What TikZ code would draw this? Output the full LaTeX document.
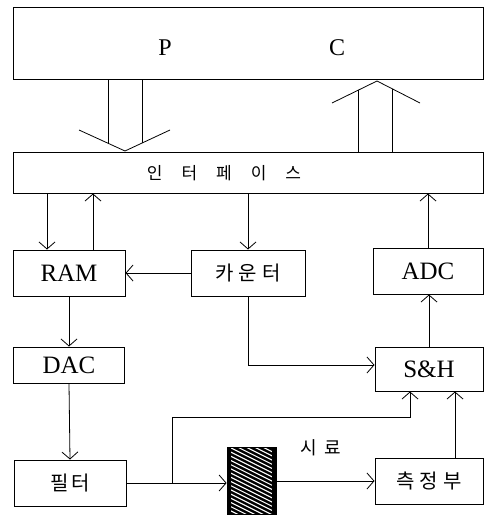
\documentclass[tikz,border=0pt]{standalone}
\usepackage{fontspec}
\setmainfont{Liberation Serif}
\newfontfamily\kr{Noto Sans CJK KR}
\usetikzlibrary{calc,positioning,arrows.meta}

\begin{document}
\begin{tikzpicture}[x=1pt, y=-1pt, line width=0.8pt,
    >={Straight Barb[length=7pt,width=16pt]},
    blk/.style={draw, line width=1pt, inner sep=0pt,
                font=\fontsize{25}{28}\selectfont},
    krt/.style={font=\kr\fontsize{20}{24}\selectfont}]
  \useasboundingbox (0,0) rectangle (488,516);
  % PC and interface
  \node[blk, minimum width=470pt, minimum height=72pt] (pc) at (248,44) {};
  \node[font=\fontsize{24}{28}\selectfont] (pcp) at (165,48) {P};
  \node[font=\fontsize{24}{28}\selectfont] (pcc) at (337,48) {C};
  \node[blk, minimum width=470pt, minimum height=41pt] (intf) at (248,172.5) {};
  \node[font=\kr\fontsize{17}{20}\selectfont] (intft) at (224,173)
        {인\hspace{19pt}터\hspace{19pt}페\hspace{19pt}이\hspace{19pt}스};
  % hollow arrows
  \draw (108,80) -- (108,142.5);
  \draw (142,80) -- (142,142.5);
  \draw (79,130) -- (125,151) -- (170,130);
  \draw (358,152) -- (358,90);
  \draw (392,152) -- (392,89);
  \draw (332,103) -- (377,81) -- (420,103);
  % blocks
  \node[blk, minimum width=112pt, minimum height=46pt] (ram) at (69,273) {RAM};
  \node[blk, krt, minimum width=114pt, minimum height=46pt] (cnt) at (248,273)
        {카\hspace{5pt}운\hspace{5pt}터};
  \node[blk, minimum width=110pt, minimum height=46pt] (adc) at (428,271) {ADC};
  \node[blk, minimum width=111pt, minimum height=36pt] (dac) at (69,365) {DAC};
  \node[blk, minimum width=108pt, minimum height=44pt] (sh) at (429,369) {S\&H};
  \node[blk, krt, minimum width=112pt, minimum height=46pt] (filt) at (70,483)
        {필\hspace{3pt}터};
  \node[blk, krt, minimum width=108pt, minimum height=46pt] (meas) at (429,481)
        {측\hspace{5pt}정\hspace{5pt}부};
  \node[font=\kr\fontsize{18}{22}\selectfont] (smpt) at (321,448)
        {시\hspace{8pt}료};
  \node[draw, fill=black, inner sep=0pt, minimum width=49pt, minimum height=67pt,
        path picture={
          \foreach \k in {-24,...,16}
            \draw[white, line width=1.1pt]
              ([xshift=-30pt, yshift=\k*4.2pt]path picture bounding box.center)
              -- ++(60pt,-30pt);
        }] (smp) at (251.5,481) {};
  \draw[line width=4pt] (smp.north west) ++(2pt,0) -- ([xshift=2pt]smp.south west);
  \draw[line width=4pt] (smp.north east) ++(-2pt,0) -- ([xshift=-2pt]smp.south east);
  % connectors
  \coordinate (ramin) at ([xshift=-22pt]ram.north);
  \coordinate (ramout) at ([xshift=24pt]ram.north);
  \draw[->] (intf.south -| ramin) -- (ramin);
  \draw[->] (ramout) -- (intf.south -| ramout);
  \draw[->] (intf.south -| cnt.north) -- (cnt.north);
  \draw[->] (cnt.west) -- (ram.east);
  \draw[->] (adc.north) -- (intf.south -| adc.north);
  \draw[->] (ram.south) -- (dac.north);
  \draw[->] (dac.south) -- (filt.north);
  \draw[->] (cnt.south) |- ([yshift=4pt]sh.west);
  \draw[->] (sh.north) -- (sh.north |- adc.south);
  \coordinate (shin) at ([xshift=-19pt]sh.south);
  \coordinate (shin2) at ([xshift=26pt]sh.south);
  \draw[->] (meas.north -| shin2) -- (shin2);
  \draw[->] (filt.east) -- (filt.east -| smp.west);
  \coordinate (jn) at (filt.east -| 172,0);
  \draw[->] (jn) -- ++(0,-66) -| (shin);
  \draw[->] (smp.east |- meas.west) -- (meas.west);
\end{tikzpicture}
\end{document}
